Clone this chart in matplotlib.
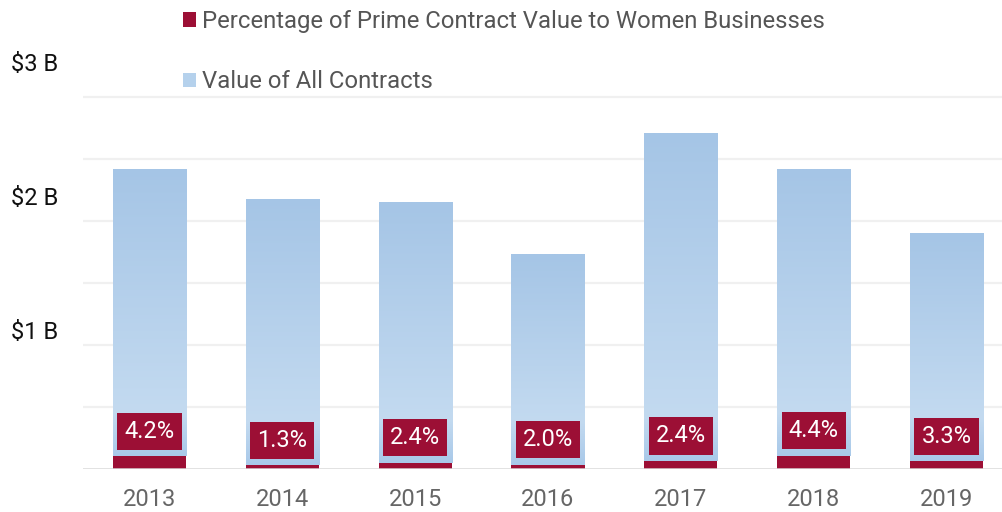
import numpy as np
import matplotlib
matplotlib.use("Agg")
import matplotlib.pyplot as plt
from matplotlib.colors import to_rgb

# ================= DATA =================
years = ["2013", "2014", "2015", "2016", "2017", "2018", "2019"]
total_value = [2.42, 2.18, 2.15, 1.73, 2.71, 2.42, 1.90]   # $ billions
women_pct = [4.2, 1.3, 2.4, 2.0, 2.4, 4.4, 3.3]           # % of total
ytick_pos = [1.117, 2.198, 3.286]
ytick_labels = ["$1 B", "$2 B", "$3 B"]
legend_labels = ["Percentage of Prime Contract Value to Women Businesses",
                 "Value of All Contracts"]

CRIMSON = "#9c0f35"
BLUE_TOP = "#a5c5e6"
BLUE_LIGHT = "#c3daf0"
BLUE_BOTTOM = "#a9c9e9"

plt.rcParams["font.family"] = ["Roboto", "DejaVu Sans"]


def gradient_image(height, rows=200):
    """Vertical blue gradient for one bar (row 0 = top)."""
    d = np.linspace(height, 0, rows)
    stops_d = [0, min(0.35, height * 0.5), height]
    c0, c1, c2 = (np.array(to_rgb(c)) for c in (BLUE_BOTTOM, BLUE_LIGHT, BLUE_TOP))
    img = np.empty((rows, 1, 3))
    for i, v in enumerate(d):
        if v <= stops_d[1]:
            t = v / stops_d[1]
            img[i, 0] = c0 + (c1 - c0) * t
        else:
            t = (v - stops_d[1]) / (stops_d[2] - stops_d[1])
            img[i, 0] = c1 + (c2 - c1) * t
    return img


fig = plt.figure(figsize=(10.03, 5.12), dpi=100)
ax = fig.add_axes([83 / 1003, 43 / 512, 930 / 1003, 469 / 512])

x = np.arange(len(years))
total = np.array(total_value)
women = total * np.array(women_pct) / 100
width = 0.55

red_bars = ax.bar(x, women, width, color=CRIMSON, zorder=3,
                  label=legend_labels[0])
blue_bars = ax.bar(x, total - women, width, bottom=women, color="#b5d1ec",
                   zorder=2, label=legend_labels[1])

# gradient fill clipped to each blue bar
for patch in blue_bars:
    x0, y0 = patch.get_x(), patch.get_y()
    w, h = patch.get_width(), patch.get_height()
    im = ax.imshow(gradient_image(h), extent=(x0, x0 + w, y0, y0 + h),
                   aspect="auto", zorder=2.5, interpolation="bilinear")
    im.set_clip_path(patch)

# percentage labels
for xi, wv, pct in zip(x, women, women_pct):
    ax.annotate("{:.1f}%".format(pct), (xi, wv), xytext=(0, 18),
                textcoords="offset points", ha="center", va="center",
                color="white", fontsize=17, zorder=5,
                bbox=dict(boxstyle="square,pad=0.3", fc=CRIMSON, ec="none"))

ax.set_xlim(-0.5, len(years) - 0.5)
ax.set_ylim(0, 469 / 124)

ax.set_xticks(x, years)
ax.set_yticks(ytick_pos, ytick_labels)
ax.set_yticks(np.arange(0.5, 3.01, 0.5), minor=True)
ax.tick_params(axis="x", length=0, pad=13.5, labelsize=17, labelcolor="#666666")
ax.tick_params(axis="y", which="major", length=0, pad=18, labelsize=17,
               labelcolor="#111111")
ax.tick_params(axis="y", which="minor", length=0)
ax.grid(True, axis="y", which="minor", color="#f0f0f0", linewidth=1.6, zorder=0)
ax.axhline(0, color="#d9d9d9", linewidth=1.8, zorder=4)
for s in ax.spines.values():
    s.set_visible(False)

ax.legend(handles=[red_bars, blue_bars], loc="upper left",
          bbox_to_anchor=(183 / 1003, 1 - 10 / 512),
          bbox_transform=fig.transFigure, frameon=False, fontsize=17.2,
          labelcolor="#555555", handlelength=0.55, handleheight=0.55,
          handletextpad=0.25, labelspacing=1.56, borderpad=0,
          borderaxespad=0)

fig.savefig("out.png", dpi=100)
